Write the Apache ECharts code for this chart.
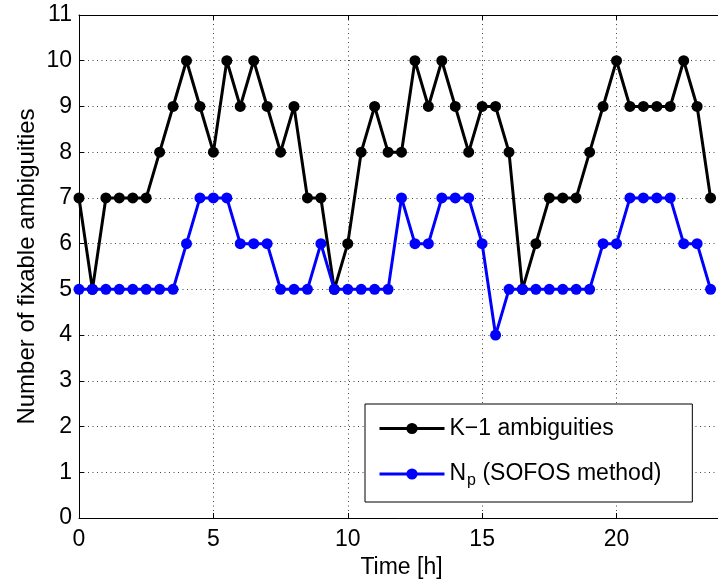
<!DOCTYPE html>
<html>
<head>
<meta charset="utf-8">
<script src="https://cdn.jsdelivr.net/npm/echarts@6/dist/echarts.min.js"></script>
<style>
  html, body { margin: 0; padding: 0; background: #fff; }
  #chart { width: 718px; height: 580px; }
</style>
</head>
<body>
<div id="chart"></div>
<script>
// Time stamps (hours), one every half hour
const hours = [
  0, 0.5, 1, 1.5, 2, 2.5, 3, 3.5, 4, 4.5, 5, 5.5, 6, 6.5, 7, 7.5,
  8, 8.5, 9, 9.5, 10, 10.5, 11, 11.5, 12, 12.5, 13, 13.5, 14, 14.5, 15, 15.5,
  16, 16.5, 17, 17.5, 18, 18.5, 19, 19.5, 20, 20.5, 21, 21.5, 22, 22.5, 23, 23.5
];

// K-1 ambiguities
const kMinusOne = [
  7, 5, 7, 7, 7, 7, 8, 9, 10, 9, 8, 10, 9, 10, 9, 8,
  9, 7, 7, 5, 6, 8, 9, 8, 8, 10, 9, 10, 9, 8, 9, 9,
  8, 5, 6, 7, 7, 7, 8, 9, 10, 9, 9, 9, 9, 10, 9, 7
];

// Np (SOFOS method)
const nP = [
  5, 5, 5, 5, 5, 5, 5, 5, 6, 7, 7, 7, 6, 6, 6, 5,
  5, 5, 6, 5, 5, 5, 5, 5, 7, 6, 6, 7, 7, 7, 6, 4,
  5, 5, 5, 5, 5, 5, 5, 6, 6, 7, 7, 7, 7, 6, 6, 5
];

const xTicks = [0, 5, 10, 15, 20];
const yTicks = [0, 1, 2, 3, 4, 5, 6, 7, 8, 9, 10, 11];

const FONT = '"Liberation Sans", Arial, Helvetica, sans-serif';

const pair = (xs, ys) => xs.map((x, i) => [x, ys[i]]);

const chart = echarts.init(document.getElementById('chart'), null, { renderer: 'canvas' });

const gridLine = { show: true, lineStyle: { color: '#444', type: [1, 3.5], width: 1 } };

chart.setOption({
  backgroundColor: '#fff',
  animation: false,
  textStyle: { fontFamily: FONT },
  // plot box runs a little past the right edge of the page
  grid: { left: 79, top: 15, width: 645, height: 503, containLabel: false, outerBoundsMode: 'none' },
  xAxis: [{
    type: 'value',
    min: xTicks[0],
    max: 24,
    interval: xTicks[1] - xTicks[0],
    name: 'Time [h]',
    nameLocation: 'middle',
    nameGap: 38,
    nameMoveOverlap: false,
    nameTextStyle: { fontSize: 23, color: '#000', fontFamily: FONT },
    axisLine: { show: true, onZero: false, lineStyle: { color: '#000', width: 1 } },
    axisTick: { show: true, inside: true, length: 5, lineStyle: { color: '#000' } },
    axisLabel: { fontSize: 23, color: '#000', margin: 10, fontFamily: FONT, showMaxLabel: false },
    splitLine: gridLine
  }, {
    type: 'value',
    position: 'top',
    min: xTicks[0],
    max: 24,
    interval: xTicks[1] - xTicks[0],
    axisLine: { show: true, onZero: false, lineStyle: { color: '#000', width: 1 } },
    axisTick: { show: true, inside: true, length: 5, lineStyle: { color: '#000' } },
    axisLabel: { show: false },
    splitLine: { show: false }
  }],
  yAxis: {
    type: 'value',
    min: yTicks[0],
    max: yTicks[yTicks.length - 1],
    interval: 1,
    name: 'Number of fixable ambiguities',
    nameLocation: 'middle',
    nameGap: 40,
    nameMoveOverlap: false,
    nameTextStyle: { fontSize: 24, color: '#000', fontFamily: FONT },
    axisLine: { show: true, onZero: false, lineStyle: { color: '#000', width: 1 } },
    axisTick: { show: true, inside: true, length: 5, lineStyle: { color: '#000' } },
    axisLabel: { fontSize: 23, color: '#000', margin: 7, fontFamily: FONT },
    splitLine: gridLine
  },
  legend: {
    orient: 'vertical',
    left: 365,
    top: 404,
    itemWidth: 65,
    itemHeight: 14,
    itemGap: 19,
    padding: [13, 31, 13, 13],
    borderColor: '#000',
    borderWidth: 1,
    borderRadius: 0,
    backgroundColor: '#fff',
    lineStyle: { width: 3 },
    data: ['K\u22121 ambiguities', 'Np'],
    formatter: function (name) {
      if (name === 'Np') return '{a|N}{s|p}{a| (SOFOS method)}';
      return '{a|' + name + '}';
    },
    textStyle: {
      fontFamily: FONT,
      color: '#000',
      rich: {
        a: { fontSize: 23, lineHeight: 24, color: '#000', fontFamily: FONT },
        s: { fontSize: 16, lineHeight: 24, color: '#000', fontFamily: FONT, padding: [14, 0, 0, 1] }
      }
    }
  },
  series: [{
    name: 'K\u22121 ambiguities',
    type: 'line',
    data: pair(hours, kMinusOne),
    symbol: 'circle',
    symbolSize: 11,
    lineStyle: { color: '#000', width: 3 },
    itemStyle: { color: '#000' },
    clip: true
  }, {
    name: 'Np',
    type: 'line',
    data: pair(hours, nP),
    symbol: 'circle',
    symbolSize: 11,
    lineStyle: { color: '#0000ff', width: 3 },
    itemStyle: { color: '#0000ff' },
    clip: true
  }]
});
</script>
</body>
</html>
